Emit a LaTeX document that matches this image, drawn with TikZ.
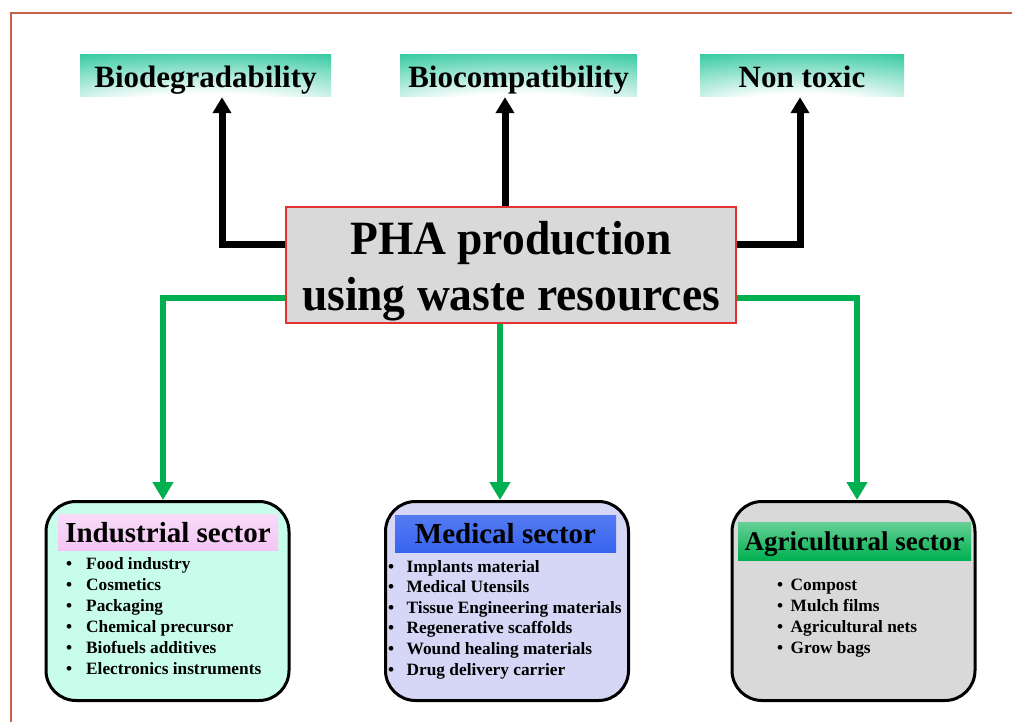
\documentclass[tikz,border=0pt]{standalone}
\usepackage{fontspec}
\setmainfont{Liberation Serif}
\usetikzlibrary{arrows.meta}
\definecolor{brd}{RGB}{196,100,70}
\definecolor{teal1}{RGB}{30,196,150}
\definecolor{ggreen}{RGB}{0,176,80}
\definecolor{redb}{RGB}{226,50,50}
\definecolor{grayf}{RGB}{217,217,217}
\definecolor{aqua}{RGB}{200,253,236}
\definecolor{lav}{RGB}{214,214,246}
\definecolor{pinkh}{RGB}{244,196,244}
\definecolor{blueh}{RGB}{55,100,240}
\pgfdeclareradialshading{tealglow}{\pgfpoint{0bp}{-50bp}}{color(0bp)=(white); color(18bp)=(white); color(55bp)=(teal1); color(80bp)=(teal1)}
\begin{document}
\begin{tikzpicture}[x=1pt,y=-1pt,
  topbox/.style={shading=tealglow, minimum height=42pt, inner sep=0pt,
    text height=24pt, text depth=0pt,
    font=\fontsize{31}{34}\selectfont\bfseries},
  sector/.style={draw=black, line width=3pt, rounded corners=30pt,
    minimum width=243pt, minimum height=199pt, inner sep=0pt},
  header/.style={inner sep=0pt, text height=20pt, text depth=0pt, font=\fontsize{29}{32}\selectfont\bfseries},
  items/.style={inner sep=0pt, anchor=base west,
    font=\fontsize{17.3}{21}\selectfont\bfseries},
  bigtext/.style={inner sep=0pt, anchor=base, font=\fontsize{45.5}{50}\selectfont\bfseries},
  blk/.style={line width=7pt, -{Triangle[length=16pt,width=18pt]}},
  grn/.style={draw=ggreen, line width=6pt, -{Triangle[length=18pt,width=20pt]}, color=ggreen}]
\useasboundingbox (0,0) rectangle (1012,722);
\fill[white] (0,0) rectangle (1012,722);
\draw[brd, line width=2.2pt] (11,722) -- (11,13) -- (1012,13);

% top boxes
\node[topbox, minimum width=251pt] (bio1) at (205.5,76) {Biodegradability};
\node[topbox, minimum width=237pt] (bio2) at (518.5,76) {Biocompatibility};
\node[topbox, minimum width=204pt] (ntox) at (802,76) {Non toxic};

% centre
\node[draw=redb, line width=2pt, fill=grayf, minimum width=450pt, minimum height=116pt,
  inner sep=0pt] (pha) at (511,265) {};
\node[bigtext] (phat1) at (511,254.5) {\scalebox{1}[1.05]{PHA production}};
\node[bigtext] (phat2) at (511,310) {\scalebox{1}[1.05]{using waste resources}};

% sectors
\node[sector, fill=aqua] (ind) at (167.5,601) {};
\node[sector, fill=lav] (med) at (507,601) {};
\node[sector, fill=grayf] (agr) at (853.5,601) {};

\node[header, top color=pinkh!60!white, bottom color=pinkh, minimum width=220pt, minimum height=36pt]
  (indh) at (168,532.5) {Industrial sector};
\node[header, top color=blueh!85!white, bottom color=blueh, minimum width=221pt, minimum height=37pt]
  (medh) at (505.5,533.5) {Medical sector};
\node[header, top color=ggreen!60!white, bottom color=ggreen, minimum width=233pt, minimum height=38pt,
  text height=18pt, font=\fontsize{27}{30}\selectfont\bfseries]
  (agrh) at (854.5,541) {Agricultural sector};

\node[items] (indl) at (66,569) {\begin{tabular}[t]{@{}p{20pt}@{}l@{}}
\textbullet & Food industry\\
\textbullet & Cosmetics\\
\textbullet & Packaging\\
\textbullet & Chemical precursor\\
\textbullet & Biofuels additives\\
\textbullet & Electronics instruments
\end{tabular}};
\node[items] (medl) at (388,572) {\begin{tabular}[t]{@{}p{18.5pt}@{}l@{}}
\textbullet & Implants material\\[-0.4pt]
\textbullet & Medical Utensils\\[-0.4pt]
\textbullet & Tissue Engineering materials\\[-0.4pt]
\textbullet & Regenerative scaffolds\\[-0.4pt]
\textbullet & Wound healing materials\\[-0.4pt]
\textbullet & Drug delivery carrier
\end{tabular}};
\node[items] (agrl) at (777,590) {\begin{tabular}[t]{@{}p{13.5pt}@{}l@{}}
\textbullet & Compost\\
\textbullet & Mulch films\\
\textbullet & Agricultural nets\\
\textbullet & Grow bags
\end{tabular}};

% connectors
\coordinate (b1) at (222,245);
\coordinate (b2) at (505,0);
\coordinate (b3) at (800,245);
\draw[blk] (pha.west |- b1) -- (b1) -- (b1 |- bio1.south);
\draw[blk] (pha.north -| b2) -- (bio2.south -| b2);
\draw[blk] (pha.east |- b3) -- (b3) -- (b3 |- ntox.south);

\coordinate (g1) at (163,298);
\coordinate (g2) at (500,0);
\coordinate (g3) at (857,298);
\draw[grn] (pha.west |- g1) -- (g1) -- (g1 |- ind.north);
\draw[grn] (pha.south -| g2) -- (med.north -| g2);
\draw[grn] (pha.east |- g3) -- (g3) -- (g3 |- agr.north);
\end{tikzpicture}
\end{document}
